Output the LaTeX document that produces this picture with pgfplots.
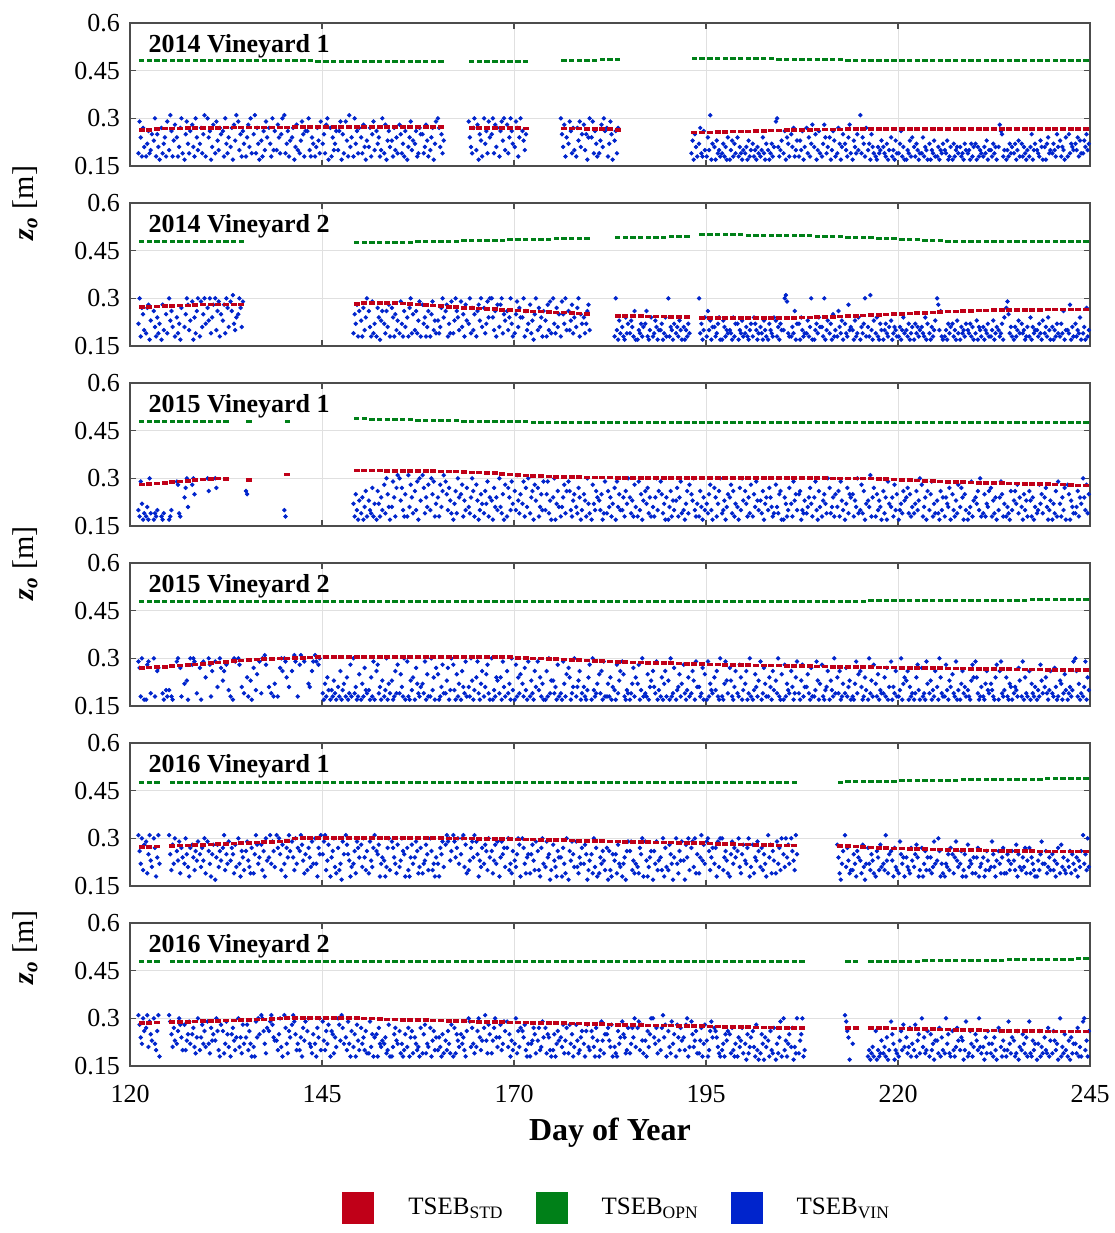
\documentclass[border=0pt]{standalone}
\usepackage{fontspec}
\setmainfont{Liberation Serif}
\usepackage{pgfplots}
\usepackage{pgfplotstable}
\pgfplotsset{compat=1.18}

\definecolor{cstd}{RGB}{192,0,24}
\definecolor{copn}{RGB}{0,128,24}
\definecolor{cvin}{RGB}{0,36,204}

% short horizontal dashes used for the daily TSEB_STD / TSEB_OPN values
\pgfdeclareplotmark{rdash}{\pgfpathrectangle{\pgfpoint{-1.5pt}{-0.9pt}}{\pgfpoint{3pt}{1.8pt}}\pgfusepathqfill}
\pgfdeclareplotmark{gdash}{\pgfpathrectangle{\pgfpoint{-1.35pt}{-0.75pt}}{\pgfpoint{2.7pt}{1.5pt}}\pgfusepathqfill}

% columns: day, TSEB_STD, TSEB_OPN, six TSEB_VIN values of the day
\pgfplotstableread{
d s o b1 b2 b3 b4 b5 b6
121 0.264 0.483 0.19 0.29 0.24 0.18 0.27 0.21
122 0.264 0.483 0.18 0.22 0.26 0.19 0.20 0.25
123 0.266 0.483 0.23 0.30 0.18 0.25 0.21 0.17
124 0.268 0.483 0.27 0.19 0.22 0.24 0.18 0.29
125 0.268 0.482 0.20 0.31 0.26 0.18 0.23 0.28
126 0.268 0.482 0.24 0.18 0.21 0.27 0.30 0.19
127 0.270 0.482 0.17 0.25 0.29 0.22 0.19 0.26
128 0.270 0.482 0.28 0.21 0.18 0.30 0.24 0.20
129 0.270 0.482 0.22 0.27 0.19 0.25 0.31 0.18
130 0.270 0.482 0.30 0.24 0.26 0.17 0.21 0.28
131 0.270 0.482 0.19 0.29 0.23 0.20 0.27 0.25
132 0.271 0.482 0.26 0.18 0.30 0.22 0.19 0.24
133 0.271 0.481 0.21 0.27 0.17 0.28 0.23 0.31
134 0.271 0.481 0.29 0.20 0.25 0.18 0.26 0.22
135 0.271 0.481 0.18 0.24 0.28 0.21 0.30 0.19
136 0.271 0.481 0.25 0.31 0.19 0.27 0.22 0.17
137 0.271 0.481 0.23 0.18 0.26 0.20 0.29 0.24
138 0.271 0.481 0.27 0.22 0.18 0.30 0.20 0.26
139 0.271 0.481 0.20 0.28 0.24 0.19 0.25 0.30
140 0.271 0.481 0.31 0.19 0.22 0.26 0.18 0.23
141 0.272 0.481 0.24 0.27 0.17 0.21 0.28 0.20
142 0.272 0.481 0.19 0.23 0.29 0.25 0.18 0.26
143 0.272 0.481 0.26 0.30 0.20 0.18 0.24 0.22
144 0.272 0.480 0.18 0.21 0.27 0.23 0.19 0.29
145 0.272 0.480 0.22 0.25 0.19 0.28 0.30 0.17
146 0.272 0.480 0.27 0.18 0.24 0.20 0.22 0.26
147 0.272 0.480 0.20 0.26 0.29 0.17 0.25 0.19
148 0.272 0.480 0.29 0.23 0.18 0.31 0.21 0.24
149 0.272 0.480 0.18 0.30 0.22 0.26 0.19 0.27
150 0.272 0.480 0.24 0.19 0.28 0.21 0.17 0.23
151 0.272 0.480 0.21 0.27 0.18 0.25 0.29 0.20
152 0.272 0.480 0.26 0.22 0.24 0.18 0.20 0.30
153 0.272 0.480 0.19 0.28 0.17 0.23 0.26 0.21
154 0.272 0.480 0.23 0.18 0.27 0.20 0.24 0.19
155 0.272 0.480 0.28 0.25 0.19 0.22 0.18 0.26
156 0.272 0.480 0.17 0.21 0.24 0.29 0.20 0.23
157 0.272 0.480 0.22 0.26 0.18 0.19 0.27 0.25
158 0.272 0.480 0.25 0.19 0.21 0.28 0.23 0.18
159 0.272 0.480 0.20 0.24 0.27 0.17 0.22 0.29
160 0.272 0.480 0.30 0.27 0.21 0.25 0.19 0.23
164 0.270 0.480 0.29 0.24 0.21 0.19 0.27 0.30
165 0.270 0.480 0.20 0.28 0.17 0.25 0.23 0.18
166 0.270 0.480 0.30 0.22 0.26 0.19 0.29 0.24
167 0.270 0.480 0.25 0.30 0.19 0.28 0.21 0.27
168 0.270 0.480 0.18 0.26 0.29 0.23 0.30 0.20
169 0.270 0.480 0.28 0.19 0.24 0.30 0.26 0.22
170 0.270 0.480 0.21 0.29 0.27 0.18 0.24 0.30
171 0.268 0.480 0.26 0.23 0.20 0.25 nan nan
176 0.268 0.482 0.30 0.25 0.21 0.28 0.18 0.24
177 0.268 0.482 0.22 0.29 0.26 0.19 0.27 0.20
178 0.268 0.483 0.18 0.27 0.23 0.29 0.21 0.25
179 0.267 0.483 0.28 0.20 0.25 0.17 0.24 0.30
180 0.267 0.483 0.24 0.29 0.19 0.26 0.22 0.18
181 0.266 0.484 0.19 0.23 0.28 0.21 0.30 0.26
182 0.266 0.485 0.27 0.18 0.22 0.29 0.25 0.17
183 0.264 0.485 0.23 0.26 0.19 0.27 nan nan
193 0.255 0.489 0.19 0.23 0.17 0.25 0.21 0.18
194 0.256 0.489 0.22 0.27 0.19 0.18 0.26 0.20
195 0.256 0.489 0.18 0.24 0.20 0.31 0.17 0.22
196 0.257 0.489 0.21 0.17 0.23 0.19 0.20 0.18
197 0.257 0.488 0.19 0.22 0.18 0.21 0.17 0.24
198 0.258 0.488 0.17 0.20 0.23 0.18 0.22 0.19
199 0.258 0.488 0.24 0.18 0.21 0.19 0.17 0.20
200 0.259 0.488 0.19 0.21 0.17 0.23 0.18 0.20
201 0.260 0.487 0.22 0.18 0.20 0.17 0.21 0.19
202 0.261 0.487 0.18 0.20 0.24 0.19 0.17 0.22
203 0.262 0.487 0.20 0.17 0.19 0.22 0.18 0.21
204 0.262 0.486 0.29 0.30 0.21 0.18 0.20 0.23
205 0.263 0.486 0.19 0.26 0.17 0.24 0.22 0.18
206 0.263 0.486 0.25 0.21 0.27 0.18 0.20 0.23
207 0.264 0.485 0.18 0.23 0.20 0.26 0.17 0.21
208 0.264 0.485 0.27 0.19 0.24 0.18 0.22 0.28
209 0.265 0.485 0.21 0.25 0.17 0.20 0.26 0.19
210 0.265 0.484 0.18 0.22 0.28 0.24 0.19 0.21
211 0.265 0.484 0.24 0.17 0.20 0.26 0.23 0.18
212 0.265 0.484 0.19 0.27 0.22 0.17 0.21 0.25
213 0.266 0.483 0.22 0.20 0.18 0.24 0.28 0.19
214 0.266 0.483 0.17 0.23 0.21 0.19 0.25 0.20
215 0.266 0.483 0.31 0.19 0.24 0.22 0.18 0.27
216 0.266 0.482 0.20 0.22 0.17 0.25 0.21 0.19
217 0.266 0.482 0.18 0.17 0.21 0.19 0.20 0.23
218 0.266 0.482 0.21 0.19 0.18 0.22 0.17 0.20
219 0.266 0.482 0.24 0.18 0.20 0.17 0.23 0.19
220 0.266 0.482 0.19 0.22 0.26 0.18 0.21 0.17
221 0.266 0.481 0.17 0.20 0.19 0.23 0.18 0.24
222 0.266 0.481 0.21 0.18 0.22 0.20 0.17 0.19
223 0.266 0.481 0.19 0.24 0.18 0.21 0.20 0.17
224 0.266 0.481 0.22 0.17 0.20 0.19 0.23 0.18
225 0.266 0.481 0.18 0.21 0.17 0.20 0.19 0.22
226 0.266 0.481 0.20 0.19 0.23 0.17 0.18 0.21
227 0.266 0.481 0.17 0.22 0.18 0.20 0.21 0.19
228 0.266 0.481 0.21 0.18 0.19 0.17 0.22 0.20
229 0.266 0.481 0.19 0.20 0.17 0.22 0.18 0.21
230 0.266 0.481 0.22 0.17 0.21 0.18 0.20 0.19
231 0.267 0.481 0.18 0.21 0.19 0.23 0.17 0.20
232 0.267 0.481 0.20 0.18 0.22 0.19 0.21 0.17
233 0.267 0.481 0.21 0.28 0.26 0.25 0.18 0.20
234 0.267 0.481 0.17 0.20 0.18 0.22 0.19 0.21
235 0.267 0.481 0.19 0.22 0.17 0.20 0.23 0.18
236 0.267 0.481 0.22 0.18 0.21 0.19 0.17 0.20
237 0.267 0.481 0.18 0.21 0.25 0.17 0.20 0.22
238 0.267 0.481 0.20 0.19 0.18 0.23 0.21 0.17
239 0.267 0.481 0.21 0.17 0.22 0.24 0.19 0.20
240 0.267 0.481 0.19 0.22 0.20 0.18 0.25 0.21
241 0.267 0.481 0.23 0.18 0.21 0.20 0.17 0.24
242 0.267 0.481 0.18 0.25 0.19 0.22 0.21 0.20
243 0.267 0.481 0.22 0.20 0.24 0.18 0.23 0.19
244 0.267 0.481 0.19 0.23 0.21 0.25 0.20 0.22
}\tA

\pgfplotstableread{
d s o b1 b2 b3 b4 b5 b6
121 0.272 0.478 0.22 0.30 0.18 0.27 0.25 0.20
122 0.273 0.478 0.19 0.27 0.28 0.17 0.23 nan
123 0.274 0.478 0.26 0.21 0.18 0.24 0.19 0.22
124 0.275 0.478 0.17 0.28 0.20 nan 0.25 0.19
125 0.276 0.478 0.30 0.23 0.26 0.21 nan 0.18
126 0.277 0.478 0.24 0.19 0.22 0.17 0.27 nan
127 0.278 0.478 0.21 0.25 0.30 0.28 0.20 0.23
128 0.279 0.478 0.29 0.17 0.24 0.19 0.26 0.30
129 0.280 0.478 0.18 0.29 0.21 0.25 0.30 0.22
130 0.280 0.478 0.27 0.23 0.30 0.19 0.24 0.28
131 0.280 0.478 0.30 0.20 0.26 0.29 0.18 0.25
132 0.280 0.478 0.23 0.28 0.19 0.30 0.27 0.21
133 0.280 0.478 0.29 0.26 0.31 0.22 0.20 0.24
134 0.280 0.478 0.25 0.30 0.27 0.21 0.29 nan
149 0.283 0.475 0.19 0.25 0.22 0.28 0.18 0.26
150 0.285 0.475 0.23 0.18 0.27 0.20 0.24 0.30
151 0.285 0.476 0.26 0.21 0.18 0.29 0.19 0.22
152 0.285 0.476 0.18 0.27 0.24 0.17 0.23 0.26
153 0.285 0.476 0.22 0.19 0.26 0.21 0.28 0.18
154 0.285 0.477 0.27 0.24 0.18 0.25 0.20 0.23
155 0.284 0.477 0.19 0.29 0.22 0.18 0.26 0.21
156 0.283 0.477 0.24 0.18 0.27 0.30 0.19 0.25
157 0.281 0.478 0.20 0.26 0.19 0.23 0.29 0.18
158 0.279 0.478 0.28 0.22 0.24 0.18 0.21 0.26
159 0.277 0.479 0.18 0.25 0.29 0.20 0.23 0.19
160 0.275 0.479 0.23 0.19 0.21 0.27 0.30 0.24
161 0.273 0.480 0.26 0.28 0.18 0.22 0.19 0.29
162 0.272 0.480 0.19 0.23 0.30 0.26 0.24 0.20
163 0.270 0.481 0.29 0.21 0.25 0.18 0.28 0.23
164 0.269 0.481 0.22 0.30 0.19 0.27 0.20 0.25
165 0.268 0.482 0.18 0.26 0.28 0.23 0.30 0.21
166 0.267 0.482 0.27 0.19 0.22 0.29 0.24 0.30
167 0.266 0.483 0.30 0.24 0.20 0.26 0.18 0.28
168 0.264 0.483 0.21 0.28 0.30 0.19 0.25 0.23
169 0.263 0.484 0.26 0.20 0.24 0.30 0.22 0.18
170 0.262 0.484 0.19 0.25 0.29 0.21 0.27 0.24
171 0.260 0.485 0.24 0.30 0.18 0.26 0.20 0.22
172 0.259 0.485 0.28 0.19 0.23 0.17 0.25 0.30
173 0.258 0.486 0.20 0.27 0.21 0.24 0.18 0.26
174 0.257 0.486 0.23 0.18 0.28 0.20 0.29 0.19
175 0.256 0.487 0.30 0.22 0.19 0.27 0.21 0.25
176 0.255 0.487 0.18 0.29 0.25 0.22 0.30 0.20
177 0.254 0.488 0.26 0.20 0.23 0.28 0.19 0.24
178 0.252 0.488 0.21 0.27 0.30 0.18 0.25 0.22
179 0.250 0.489 0.24 0.19 0.22 0.26 0.28 0.20
183 0.245 0.490 0.18 0.30 0.20 0.17 0.23 0.19
184 0.245 0.491 0.21 0.18 0.17 0.24 0.19 0.22
185 0.244 0.491 0.19 0.23 0.21 0.18 0.26 0.17
186 0.244 0.492 0.17 0.20 0.19 0.22 0.18 0.21
187 0.243 0.492 0.22 0.26 0.18 0.17 0.20 0.24
188 0.243 0.493 0.18 0.19 0.23 0.21 0.17 0.20
189 0.243 0.493 0.20 0.22 0.17 0.19 0.24 0.18
190 0.242 0.494 0.30 0.18 0.21 0.20 0.17 0.22
191 0.242 0.494 0.19 0.21 0.18 0.23 0.20 0.17
192 0.242 0.495 0.21 0.17 0.20 0.18 0.22 0.19
194 0.238 0.500 0.30 0.19 0.22 0.17 0.20 0.24
195 0.238 0.500 0.18 0.26 0.20 0.23 0.17 0.21
196 0.238 0.500 0.21 0.18 0.19 0.22 0.24 0.17
197 0.238 0.500 0.17 0.23 0.21 0.18 0.20 0.19
198 0.238 0.500 0.20 0.19 0.17 0.24 0.18 0.22
199 0.238 0.500 0.22 0.17 0.20 0.19 0.23 0.18
200 0.238 0.499 0.19 0.21 0.18 0.17 0.20 0.22
201 0.238 0.499 0.18 0.24 0.22 0.20 0.17 0.19
202 0.238 0.499 0.21 0.19 0.17 0.23 0.20 0.18
203 0.238 0.499 0.17 0.22 0.20 0.19 0.18 0.24
204 0.238 0.498 0.23 0.18 0.21 0.17 0.22 0.20
205 0.239 0.498 0.20 0.30 0.31 0.29 0.19 0.18
206 0.239 0.498 0.18 0.21 0.19 0.26 0.17 0.22
207 0.240 0.497 0.22 0.17 0.24 0.20 0.18 0.19
208 0.240 0.497 0.19 0.23 0.18 0.21 0.30 0.17
209 0.241 0.496 0.17 0.20 0.22 0.19 0.24 0.21
210 0.242 0.496 0.21 0.18 0.30 0.17 0.20 0.23
211 0.242 0.495 0.19 0.22 0.17 0.25 0.18 0.20
212 0.243 0.494 0.18 0.26 0.21 0.19 0.23 0.17
213 0.244 0.493 0.22 0.19 0.18 0.28 0.20 0.21
214 0.245 0.492 0.20 0.17 0.23 0.18 0.19 0.24
215 0.246 0.491 0.17 0.21 0.19 0.22 0.30 0.18
216 0.247 0.490 0.21 0.18 0.31 0.20 0.17 0.23
217 0.248 0.489 0.19 0.24 0.18 0.17 0.22 0.20
218 0.249 0.488 0.17 0.20 0.22 0.19 0.18 0.21
219 0.250 0.487 0.23 0.17 0.19 0.21 0.20 0.18
220 0.251 0.486 0.18 0.21 0.17 0.20 0.24 0.19
221 0.252 0.485 0.20 0.18 0.22 0.17 0.19 0.21
222 0.253 0.484 0.17 0.22 0.19 0.21 0.18 0.20
223 0.254 0.483 0.21 0.19 0.18 0.24 0.17 0.22
224 0.256 0.482 0.19 0.17 0.21 0.18 0.20 0.23
225 0.257 0.481 0.30 0.28 0.20 0.26 0.18 0.17
226 0.258 0.480 0.18 0.20 0.17 0.22 0.19 0.21
227 0.259 0.480 0.22 0.18 0.20 0.17 0.23 0.19
228 0.260 0.479 0.17 0.21 0.19 0.20 0.18 0.22
229 0.261 0.479 0.20 0.19 0.22 0.18 0.21 0.17
230 0.262 0.479 0.19 0.23 0.17 0.21 0.20 0.18
231 0.262 0.478 0.21 0.17 0.20 0.19 0.22 0.18
232 0.263 0.478 0.18 0.20 0.23 0.17 0.19 0.21
233 0.263 0.478 0.20 0.18 0.19 0.22 0.17 0.24
234 0.263 0.478 0.27 0.29 0.25 0.19 0.21 0.18
235 0.264 0.478 0.17 0.21 0.18 0.20 0.23 0.19
236 0.264 0.478 0.22 0.19 0.20 0.17 0.18 0.21
237 0.264 0.478 0.18 0.24 0.17 0.21 0.19 0.20
238 0.264 0.478 0.20 0.18 0.22 0.19 0.17 0.23
239 0.265 0.478 0.19 0.21 0.18 0.24 0.20 0.17
240 0.265 0.478 0.21 0.17 0.20 0.18 0.22 0.19
241 0.265 0.478 0.18 0.22 0.19 0.26 0.17 0.20
242 0.265 0.478 0.20 0.19 0.28 0.17 0.21 0.18
243 0.265 0.478 0.22 0.18 0.20 0.19 0.24 0.17
244 0.265 0.478 0.19 0.21 0.17 0.27 0.18 0.20
}\tB

\pgfplotstableread{
d s o b1 b2 b3 b4 b5 b6
121 0.280 0.478 0.20 0.18 0.29 0.22 0.17 0.19
122 0.282 0.478 0.18 0.21 0.17 0.30 0.19 nan
123 0.284 0.478 0.17 0.19 0.18 0.20 nan nan
124 0.286 0.478 0.18 0.17 0.19 nan nan nan
125 0.288 0.478 0.17 0.18 0.20 nan nan nan
126 0.290 0.478 0.29 0.28 0.19 0.18 nan nan
127 0.292 0.478 0.24 0.27 0.30 0.21 nan nan
128 0.294 0.478 0.28 0.30 0.25 nan nan nan
129 0.296 0.478 nan nan nan nan nan nan
130 0.298 0.478 0.30 0.26 nan nan nan nan
131 0.300 0.478 0.30 0.27 nan nan nan nan
132 0.298 0.478 nan nan nan nan nan nan
135 0.295 0.478 0.26 0.25 nan nan nan nan
140 0.312 0.478 0.20 0.18 nan nan nan nan
149 0.325 0.487 0.22 0.18 0.25 0.20 0.17 0.23
150 0.325 0.487 0.19 0.24 0.17 0.21 0.26 0.18
151 0.325 0.486 0.23 0.20 0.19 0.27 0.18 0.22
152 0.325 0.486 0.17 0.26 0.22 0.18 0.24 0.20
153 0.324 0.485 0.28 0.19 0.30 0.25 0.21 0.17
154 0.324 0.485 0.21 0.29 0.24 0.18 0.27 0.31
155 0.324 0.484 0.30 0.23 0.27 0.20 0.18 0.25
156 0.324 0.484 0.18 0.31 0.21 0.28 0.24 0.19
157 0.323 0.483 0.26 0.20 0.29 0.17 0.30 0.23
158 0.323 0.483 0.31 0.27 0.19 0.24 0.21 0.28
159 0.323 0.482 0.20 0.30 0.25 0.29 0.18 0.22
160 0.322 0.482 0.24 0.18 0.28 0.21 0.26 0.31
161 0.322 0.481 0.29 0.25 0.20 0.27 0.23 0.19
162 0.321 0.481 0.17 0.22 0.26 0.19 0.30 0.24
163 0.320 0.480 0.25 0.28 0.18 0.23 0.20 0.27
164 0.319 0.480 0.21 0.19 0.24 0.30 0.26 0.18
165 0.318 0.480 0.28 0.23 0.17 0.20 0.25 0.22
166 0.317 0.479 0.19 0.26 0.22 0.29 0.18 0.24
167 0.316 0.479 0.23 0.17 0.27 0.21 0.24 0.20
168 0.314 0.479 0.30 0.21 0.19 0.25 0.17 0.28
169 0.312 0.478 0.18 0.27 0.24 0.20 0.29 0.22
170 0.310 0.478 0.26 0.20 0.31 0.23 0.19 0.25
171 0.309 0.478 0.22 0.29 0.18 0.27 0.21 0.30
172 0.308 0.477 0.19 0.24 0.26 0.17 0.28 0.23
173 0.307 0.477 0.27 0.18 0.21 0.25 0.20 0.29
174 0.306 0.477 0.20 0.25 0.29 0.19 0.23 0.17
175 0.305 0.477 0.24 0.30 0.17 0.22 0.26 0.21
176 0.305 0.477 0.18 0.21 0.24 0.28 0.19 0.26
177 0.304 0.476 0.29 0.26 0.20 0.18 0.23 0.25
178 0.304 0.476 0.21 0.19 0.27 0.24 0.17 0.20
179 0.303 0.476 0.25 0.23 0.18 0.30 0.22 0.19
180 0.303 0.476 0.17 0.28 0.22 0.20 0.26 0.24
181 0.303 0.476 0.23 0.20 0.25 0.17 0.19 0.29
182 0.303 0.476 0.19 0.26 0.21 0.24 0.18 0.22
183 0.302 0.476 0.27 0.17 0.29 0.21 0.25 0.20
184 0.302 0.476 0.20 0.24 0.18 0.26 0.22 0.30
185 0.302 0.476 0.24 0.19 0.23 0.18 0.28 0.21
186 0.302 0.476 0.18 0.29 0.20 0.25 0.17 0.23
187 0.302 0.476 0.26 0.22 0.27 0.19 0.24 0.18
188 0.302 0.476 0.21 0.18 0.24 0.30 0.20 0.26
189 0.302 0.476 0.29 0.25 0.19 0.22 0.17 0.24
190 0.302 0.476 0.17 0.21 0.26 0.18 0.23 0.20
191 0.302 0.476 0.23 0.27 0.18 0.24 0.29 0.19
192 0.302 0.476 0.20 0.17 0.22 0.26 0.19 0.28
193 0.302 0.476 0.25 0.23 0.30 0.20 0.18 0.22
194 0.302 0.476 0.18 0.26 0.21 0.17 0.24 0.20
195 0.302 0.476 0.22 0.19 0.25 0.28 0.20 0.17
196 0.302 0.476 0.27 0.24 0.18 0.22 0.26 0.30
197 0.302 0.476 0.19 0.20 0.23 0.17 0.21 0.25
198 0.302 0.476 0.24 0.28 0.19 0.26 0.18 0.22
199 0.302 0.476 0.21 0.17 0.27 0.20 0.30 0.23
200 0.302 0.476 0.26 0.22 0.18 0.24 0.19 0.28
201 0.302 0.476 0.18 0.25 0.21 0.29 0.23 0.20
202 0.302 0.476 0.23 0.19 0.26 0.17 0.22 0.24
203 0.302 0.476 0.20 0.27 0.24 0.21 0.18 0.19
204 0.302 0.476 0.28 0.21 0.19 0.25 0.26 0.17
205 0.302 0.476 0.17 0.24 0.22 0.18 0.20 0.27
206 0.302 0.476 0.22 0.18 0.29 0.23 0.25 0.20
207 0.301 0.476 0.25 0.26 0.17 0.20 0.19 0.23
208 0.301 0.476 0.19 0.21 0.24 0.27 0.22 0.18
209 0.301 0.476 0.24 0.29 0.20 0.17 0.26 0.21
210 0.301 0.476 0.18 0.23 0.25 0.22 0.19 0.30
211 0.300 0.476 0.27 0.19 0.21 0.24 0.18 0.25
212 0.300 0.476 0.21 0.26 0.18 0.29 0.23 0.20
213 0.300 0.476 0.17 0.22 0.27 0.19 0.25 0.24
214 0.300 0.476 0.25 0.18 0.23 0.21 0.30 0.19
215 0.300 0.476 0.20 0.28 0.19 0.26 0.17 0.22
216 0.299 0.476 0.23 0.21 0.31 0.18 0.24 0.27
217 0.298 0.476 0.18 0.25 0.20 0.23 0.21 0.17
218 0.297 0.476 0.26 0.19 0.24 0.17 0.29 0.22
219 0.296 0.476 0.21 0.24 0.18 0.28 0.20 0.25
220 0.295 0.476 0.17 0.20 0.22 0.19 0.26 0.23
221 0.294 0.476 0.24 0.27 0.19 0.25 0.18 0.21
222 0.293 0.476 0.19 0.22 0.26 0.20 0.23 0.30
223 0.292 0.476 0.28 0.18 0.21 0.24 0.17 0.26
224 0.291 0.476 0.20 0.25 0.29 0.18 0.22 0.19
225 0.290 0.476 0.23 0.19 0.17 0.26 0.20 0.24
226 0.289 0.476 0.18 0.24 0.22 0.21 0.27 0.17
227 0.288 0.476 0.25 0.20 0.18 0.23 0.19 0.28
228 0.288 0.476 0.21 0.27 0.24 0.17 0.25 0.20
229 0.287 0.476 0.17 0.19 0.21 0.29 0.18 0.23
230 0.286 0.476 0.24 0.22 0.26 0.20 0.30 0.18
231 0.286 0.476 0.19 0.25 0.18 0.22 0.21 0.26
232 0.285 0.476 0.27 0.18 0.23 0.19 0.24 0.17
233 0.285 0.476 0.20 0.24 0.29 0.25 0.18 0.22
234 0.284 0.476 0.18 0.21 0.19 0.17 0.26 0.20
235 0.284 0.476 0.23 0.26 0.22 0.28 0.19 0.24
236 0.283 0.476 0.21 0.17 0.25 0.20 0.23 0.18
237 0.283 0.476 0.26 0.23 0.18 0.24 0.17 0.21
238 0.282 0.476 0.19 0.20 0.28 0.22 0.25 0.19
239 0.282 0.476 0.24 0.27 0.21 0.17 0.20 0.23
240 0.281 0.476 0.17 0.22 0.19 0.26 0.18 0.29
241 0.280 0.476 0.22 0.18 0.24 0.20 0.27 0.17
242 0.279 0.476 0.28 0.25 0.17 0.23 0.21 0.19
243 0.278 0.476 0.19 0.21 0.26 0.18 0.24 0.22
244 0.277 0.476 0.30 0.24 0.20 0.28 0.19 0.25
}\tC

\pgfplotstableread{
d s o b1 b2 b3 b4 b5 b6
121 0.270 0.478 0.29 0.27 0.18 0.30 nan 0.17
122 0.271 0.478 0.17 0.28 0.29 nan 0.19 nan
123 0.272 0.478 0.30 0.18 nan 0.26 0.27 nan
124 0.273 0.478 nan 0.19 0.17 nan 0.20 0.18
125 0.275 0.478 0.20 nan 0.18 0.17 nan nan
126 0.277 0.478 0.29 0.30 nan 0.27 0.18 nan
127 0.279 0.478 0.22 nan 0.23 0.17 nan 0.30
128 0.281 0.478 0.28 0.30 0.29 nan 0.19 nan
129 0.283 0.478 0.27 0.17 nan 0.29 nan 0.24
130 0.285 0.478 nan 0.30 0.28 0.18 0.26 nan
131 0.287 0.478 0.29 nan 0.21 nan 0.30 0.27
132 0.289 0.478 0.23 0.26 nan 0.28 nan 0.20
133 0.291 0.478 0.18 nan 0.17 0.30 0.29 nan
134 0.293 0.478 0.30 0.28 nan 0.21 nan 0.19
135 0.295 0.478 nan 0.24 0.18 nan 0.23 0.17
136 0.296 0.478 0.27 nan 0.20 0.25 nan 0.29
137 0.297 0.478 0.19 0.30 nan 0.31 0.28 nan
138 0.298 0.478 0.21 nan 0.19 nan 0.18 0.22
139 0.299 0.478 nan 0.18 nan 0.27 0.30 0.26
140 0.300 0.478 0.30 0.29 0.24 nan 0.21 nan
141 0.301 0.478 0.26 nan 0.31 0.29 nan 0.18
142 0.302 0.478 0.28 0.31 nan 0.30 0.29 nan
143 0.303 0.478 nan 0.22 0.21 nan 0.26 0.29
144 0.304 0.478 0.31 0.29 nan 0.28 0.30 nan
145 0.305 0.478 0.19 0.17 0.22 0.18 0.24 0.20
146 0.305 0.478 0.17 0.20 0.18 0.23 0.19 0.17
147 0.305 0.478 0.21 0.18 0.26 0.17 0.20 0.22
148 0.305 0.478 0.18 0.24 0.17 0.19 0.28 0.18
149 0.305 0.478 0.30 0.19 0.21 0.17 0.18 0.25
150 0.305 0.478 0.17 0.22 0.18 0.27 0.20 0.19
151 0.305 0.478 0.20 0.17 0.24 0.18 0.29 0.17
152 0.305 0.478 0.26 0.28 0.19 0.21 0.17 0.23
153 0.305 0.478 0.18 0.20 0.30 0.17 0.22 0.19
154 0.305 0.478 0.23 0.17 0.18 0.26 0.19 0.28
155 0.305 0.478 0.19 0.25 0.21 0.18 0.30 0.17
156 0.305 0.478 0.29 0.18 0.17 0.23 0.20 0.24
157 0.305 0.478 0.17 0.27 0.22 0.19 0.18 0.21
158 0.305 0.478 0.22 0.19 0.29 0.17 0.25 0.18
159 0.305 0.478 0.18 0.30 0.20 0.24 0.17 0.27
160 0.305 0.478 0.25 0.17 0.18 0.21 0.28 0.19
161 0.305 0.478 0.19 0.23 0.27 0.17 0.20 0.30
162 0.305 0.478 0.28 0.20 0.17 0.25 0.18 0.22
163 0.305 0.478 0.17 0.26 0.21 0.19 0.29 0.18
164 0.305 0.478 0.21 0.18 0.30 0.23 0.17 0.20
165 0.305 0.478 0.24 0.29 0.19 0.17 0.22 0.26
166 0.305 0.478 0.18 0.21 0.25 0.28 0.19 0.17
167 0.305 0.478 0.30 0.17 0.20 0.18 0.24 0.23
168 0.305 0.478 0.19 0.24 0.17 0.29 0.21 0.18
169 0.304 0.478 0.26 0.19 0.22 0.17 0.30 0.20
170 0.302 0.478 0.17 0.28 0.18 0.24 0.19 0.25
171 0.301 0.478 0.22 0.18 0.27 0.20 0.17 0.29
172 0.300 0.478 0.18 0.23 0.19 0.17 0.26 0.21
173 0.299 0.478 0.29 0.20 0.24 0.18 0.22 0.17
174 0.298 0.478 0.17 0.26 0.18 0.30 0.19 0.23
175 0.297 0.478 0.23 0.19 0.21 0.17 0.28 0.18
176 0.296 0.478 0.19 0.17 0.29 0.22 0.18 0.25
177 0.295 0.478 0.27 0.24 0.17 0.19 0.21 0.30
178 0.294 0.478 0.18 0.21 0.23 0.26 0.17 0.19
179 0.293 0.478 0.21 0.18 0.17 0.20 0.24 0.28
180 0.292 0.478 0.17 0.30 0.20 0.18 0.19 0.22
181 0.291 0.478 0.25 0.19 0.26 0.17 0.29 0.18
182 0.290 0.478 0.18 0.22 0.18 0.24 0.17 0.21
183 0.289 0.478 0.20 0.17 0.28 0.19 0.23 0.26
184 0.288 0.478 0.29 0.25 0.18 0.17 0.20 0.19
185 0.287 0.478 0.17 0.19 0.22 0.27 0.18 0.24
186 0.287 0.478 0.22 0.28 0.17 0.20 0.30 0.18
187 0.286 0.478 0.19 0.18 0.25 0.17 0.21 0.23
188 0.286 0.478 0.26 0.21 0.19 0.29 0.17 0.20
189 0.285 0.478 0.18 0.24 0.17 0.22 0.26 0.18
190 0.285 0.478 0.23 0.17 0.30 0.18 0.19 0.27
191 0.284 0.478 0.17 0.20 0.21 0.25 0.18 0.22
192 0.283 0.478 0.28 0.19 0.17 0.20 0.24 0.18
193 0.282 0.478 0.19 0.26 0.23 0.17 0.29 0.21
194 0.282 0.478 0.21 0.18 0.19 0.27 0.17 0.25
195 0.281 0.478 0.17 0.29 0.18 0.22 0.20 0.19
196 0.281 0.478 0.24 0.20 0.26 0.18 0.17 0.30
197 0.280 0.478 0.18 0.17 0.22 0.29 0.23 0.19
198 0.280 0.478 0.27 0.23 0.18 0.17 0.21 0.26
199 0.279 0.479 0.19 0.18 0.28 0.24 0.17 0.20
200 0.279 0.479 0.22 0.26 0.17 0.19 0.30 0.18
201 0.278 0.479 0.17 0.20 0.25 0.21 0.18 0.23
202 0.278 0.479 0.29 0.17 0.19 0.27 0.22 0.18
203 0.277 0.479 0.18 0.24 0.21 0.17 0.26 0.20
204 0.277 0.479 0.23 0.19 0.30 0.18 0.17 0.25
205 0.276 0.479 0.17 0.28 0.18 0.22 0.20 0.19
206 0.276 0.479 0.26 0.21 0.17 0.19 0.24 0.29
207 0.275 0.479 0.19 0.17 0.23 0.28 0.18 0.21
208 0.275 0.480 0.21 0.25 0.19 0.17 0.27 0.18
209 0.274 0.480 0.18 0.20 0.29 0.23 0.17 0.22
210 0.274 0.480 0.28 0.18 0.17 0.20 0.21 0.26
211 0.273 0.480 0.17 0.23 0.20 0.18 0.30 0.19
212 0.273 0.480 0.24 0.19 0.26 0.17 0.18 0.22
213 0.273 0.480 0.19 0.27 0.18 0.21 0.23 0.17
214 0.272 0.480 0.18 0.17 0.22 0.29 0.19 0.25
215 0.272 0.480 0.26 0.21 0.17 0.18 0.24 0.20
216 0.272 0.481 0.17 0.30 0.19 0.23 0.18 0.28
217 0.271 0.481 0.22 0.18 0.25 0.17 0.20 0.19
218 0.271 0.481 0.19 0.24 0.18 0.27 0.17 0.21
219 0.271 0.481 0.29 0.17 0.21 0.19 0.26 0.18
220 0.270 0.481 0.18 0.20 0.30 0.17 0.22 0.24
221 0.270 0.481 0.23 0.26 0.17 0.21 0.18 0.19
222 0.270 0.481 0.17 0.19 0.24 0.28 0.20 0.17
223 0.269 0.482 0.27 0.18 0.19 0.17 0.29 0.22
224 0.269 0.482 0.19 0.23 0.17 0.20 0.18 0.26
225 0.269 0.482 0.21 0.17 0.30 0.24 0.19 0.18
226 0.268 0.482 0.18 0.28 0.20 0.17 0.23 0.21
227 0.268 0.482 0.25 0.19 0.18 0.29 0.17 0.20
228 0.268 0.482 0.17 0.22 0.26 0.19 0.21 0.18
229 0.267 0.482 0.20 0.18 0.17 0.23 0.28 0.24
230 0.267 0.483 0.29 0.24 0.19 0.17 0.18 0.21
231 0.267 0.483 0.18 0.17 0.22 0.26 0.20 0.19
232 0.266 0.483 0.22 0.20 0.18 0.17 0.24 0.28
233 0.266 0.483 0.17 0.26 0.29 0.19 0.18 0.20
234 0.266 0.483 0.24 0.18 0.17 0.22 0.21 0.17
235 0.265 0.483 0.19 0.21 0.20 0.18 0.27 0.23
236 0.265 0.483 0.18 0.29 0.17 0.24 0.19 0.18
237 0.265 0.484 0.26 0.17 0.22 0.19 0.18 0.21
238 0.265 0.484 0.17 0.20 0.18 0.28 0.23 0.19
239 0.264 0.484 0.21 0.24 0.19 0.17 0.20 0.26
240 0.264 0.484 0.19 0.18 0.27 0.21 0.17 0.18
241 0.264 0.484 0.23 0.22 0.17 0.19 0.25 0.20
242 0.264 0.484 0.17 0.19 0.21 0.18 0.20 0.29
243 0.263 0.484 0.30 0.26 0.18 0.22 0.17 0.19
244 0.263 0.484 0.18 0.21 0.29 0.17 0.24 0.20
}\tD

\pgfplotstableread{
d s o b1 b2 b3 b4 b5 b6
121 0.272 0.477 0.31 0.26 0.22 0.30 0.20 0.28
122 0.273 0.477 0.29 0.19 0.25 0.31 0.23 0.21
123 0.274 0.477 0.30 0.27 0.18 0.24 0.31 0.22
125 0.276 0.477 0.31 0.25 0.20 0.28 0.22 0.30
126 0.277 0.477 0.26 0.23 0.29 0.19 0.27 0.24
127 0.278 0.477 0.22 0.30 0.25 0.21 0.18 0.27
128 0.279 0.477 0.28 0.24 0.20 0.26 0.23 0.29
129 0.280 0.477 0.25 0.21 0.27 0.23 0.30 0.19
130 0.281 0.477 0.29 0.26 0.22 0.18 0.25 0.28
131 0.282 0.477 0.17 0.24 0.28 0.21 0.26 0.23
132 0.283 0.477 0.27 0.31 0.20 0.25 0.22 0.29
133 0.284 0.477 0.23 0.27 0.25 0.19 0.28 0.21
134 0.285 0.477 0.30 0.22 0.18 0.26 0.24 0.20
135 0.286 0.477 0.26 0.29 0.23 0.21 0.19 0.27
136 0.287 0.477 0.19 0.25 0.31 0.28 0.22 0.24
137 0.288 0.477 0.28 0.20 0.26 0.18 0.30 0.23
138 0.289 0.477 0.24 0.31 0.22 0.29 0.26 0.21
139 0.290 0.477 0.31 0.27 0.30 0.25 0.20 0.28
140 0.292 0.477 0.22 0.18 0.27 0.24 0.31 0.26
141 0.300 0.477 0.29 0.24 0.20 0.30 0.22 0.27
142 0.301 0.477 0.26 0.31 0.28 0.23 0.19 0.25
143 0.301 0.477 0.20 0.27 0.24 0.21 0.29 0.22
144 0.301 0.477 0.30 0.22 0.18 0.27 0.25 0.31
145 0.301 0.477 0.25 0.29 0.31 0.20 0.23 0.28
146 0.301 0.477 0.18 0.24 0.26 0.30 0.21 0.19
147 0.301 0.477 0.27 0.20 0.22 0.17 0.29 0.25
148 0.301 0.477 0.31 0.28 0.25 0.23 0.18 0.21
149 0.301 0.477 0.22 0.26 0.19 0.29 0.27 0.24
150 0.301 0.477 0.28 0.21 0.30 0.24 0.20 0.26
151 0.301 0.477 0.19 0.29 0.23 0.21 0.27 0.31
152 0.301 0.477 0.26 0.25 0.28 0.18 0.22 0.24
153 0.301 0.477 0.23 0.18 0.21 0.27 0.30 0.20
154 0.301 0.477 0.29 0.27 0.24 0.22 0.19 0.28
155 0.301 0.477 0.21 0.23 0.30 0.26 0.25 0.18
156 0.301 0.477 0.27 0.20 0.18 0.24 0.28 0.22
157 0.301 0.477 0.24 0.29 0.26 0.19 0.21 0.27
158 0.301 0.477 0.19 0.22 0.23 0.28 0.25 0.20
159 0.301 0.477 0.30 0.26 0.20 0.22 0.18 0.24
160 0.301 0.477 0.22 0.18 0.27 0.25 0.29 0.21
161 0.300 0.477 0.28 0.31 0.29 0.30 0.23 0.26
162 0.300 0.477 0.31 0.29 0.24 0.27 0.30 0.22
163 0.299 0.477 0.25 0.30 0.31 0.21 0.28 0.19
164 0.299 0.477 0.20 0.23 0.27 0.29 0.24 0.31
165 0.298 0.477 0.29 0.25 0.18 0.23 0.21 0.27
166 0.298 0.477 0.22 0.28 0.26 0.20 0.30 0.24
167 0.297 0.477 0.26 0.19 0.23 0.28 0.22 0.29
168 0.297 0.477 0.18 0.24 0.29 0.25 0.27 0.21
169 0.297 0.477 0.27 0.30 0.20 0.22 0.19 0.26
170 0.296 0.477 0.23 0.21 0.25 0.30 0.28 0.18
171 0.296 0.477 0.30 0.27 0.22 0.19 0.24 0.25
172 0.296 0.477 0.19 0.25 0.28 0.23 0.20 0.29
173 0.295 0.477 0.26 0.20 0.18 0.27 0.30 0.22
174 0.295 0.477 0.21 0.29 0.24 0.25 0.17 0.20
175 0.294 0.477 0.28 0.23 0.21 0.18 0.26 0.24
176 0.294 0.477 0.24 0.18 0.27 0.22 0.19 0.30
177 0.293 0.477 0.17 0.26 0.23 0.29 0.25 0.21
178 0.292 0.477 0.29 0.21 0.19 0.24 0.22 0.27
179 0.292 0.477 0.22 0.28 0.25 0.17 0.20 0.23
180 0.291 0.477 0.25 0.19 0.30 0.21 0.27 0.18
181 0.291 0.477 0.19 0.24 0.22 0.26 0.23 0.20
182 0.290 0.477 0.27 0.17 0.26 0.20 0.18 0.25
183 0.290 0.477 0.23 0.25 0.19 0.28 0.22 0.21
184 0.289 0.477 0.18 0.22 0.24 0.17 0.26 0.29
185 0.289 0.477 0.26 0.29 0.20 0.23 0.19 0.22
186 0.288 0.477 0.21 0.19 0.27 0.25 0.30 0.18
187 0.288 0.477 0.29 0.23 0.18 0.21 0.24 0.26
188 0.287 0.477 0.17 0.26 0.22 0.29 0.20 0.23
189 0.287 0.477 0.24 0.20 0.30 0.18 0.27 0.21
190 0.287 0.477 0.20 0.28 0.25 0.22 0.17 0.24
191 0.286 0.477 0.30 0.22 0.19 0.26 0.23 0.29
192 0.286 0.477 0.23 0.17 0.28 0.24 0.30 0.20
193 0.285 0.477 0.27 0.29 0.21 0.30 0.19 0.25
194 0.285 0.477 0.19 0.24 0.31 0.23 0.28 0.22
195 0.284 0.477 0.29 0.30 0.26 0.20 0.24 0.27
196 0.283 0.477 0.22 0.27 0.18 0.29 0.21 0.30
197 0.283 0.477 0.30 0.20 0.24 0.26 0.23 0.19
198 0.282 0.477 0.18 0.25 0.29 0.22 0.27 0.24
199 0.281 0.477 0.26 0.30 0.21 0.19 0.25 0.28
200 0.281 0.477 0.23 0.22 0.27 0.30 0.18 0.21
201 0.280 0.477 0.28 0.19 0.24 0.23 0.29 0.26
202 0.280 0.477 0.21 0.27 0.20 0.25 0.22 0.18
203 0.279 0.477 0.31 0.24 0.28 0.19 0.26 0.23
204 0.278 0.477 0.19 0.29 0.22 0.27 0.20 0.30
205 0.278 0.477 0.25 0.21 0.30 0.24 0.28 0.22
206 0.277 0.477 0.30 0.26 0.23 0.20 0.31 0.25
212 0.275 0.477 0.28 0.24 0.19 0.17 0.22 0.26
213 0.275 0.478 0.31 0.21 0.27 0.23 0.19 0.20
214 0.274 0.478 0.20 0.25 0.22 0.18 0.26 0.24
215 0.272 0.478 0.23 0.19 0.28 0.21 0.17 0.22
216 0.271 0.479 0.27 0.22 0.20 0.25 0.23 0.19
217 0.270 0.479 0.18 0.26 0.24 0.20 0.28 0.21
218 0.269 0.480 0.22 0.20 0.31 0.23 0.19 0.25
219 0.268 0.480 0.26 0.23 0.18 0.27 0.21 0.20
220 0.268 0.481 0.19 0.29 0.25 0.22 0.24 0.18
221 0.267 0.481 0.24 0.21 0.20 0.19 0.27 0.23
222 0.266 0.482 0.21 0.25 0.28 0.24 0.18 0.20
223 0.266 0.482 0.27 0.18 0.22 0.26 0.20 0.24
224 0.265 0.482 0.20 0.24 0.19 0.21 0.29 0.22
225 0.265 0.483 0.23 0.30 0.26 0.18 0.22 0.19
226 0.264 0.483 0.18 0.22 0.21 0.25 0.20 0.27
227 0.264 0.483 0.25 0.19 0.24 0.29 0.23 0.21
228 0.263 0.484 0.22 0.26 0.18 0.20 0.25 0.18
229 0.263 0.484 0.28 0.21 0.23 0.22 0.19 0.24
230 0.263 0.484 0.19 0.24 0.27 0.18 0.21 0.22
231 0.262 0.485 0.24 0.18 0.20 0.26 0.23 0.20
232 0.262 0.485 0.21 0.29 0.25 0.21 0.18 0.23
233 0.261 0.485 0.26 0.22 0.19 0.24 0.27 0.19
234 0.261 0.485 0.19 0.25 0.23 0.20 0.22 0.26
235 0.261 0.486 0.23 0.20 0.28 0.18 0.25 0.21
236 0.260 0.486 0.20 0.24 0.21 0.27 0.19 0.23
237 0.260 0.486 0.27 0.19 0.24 0.22 0.20 0.18
238 0.259 0.486 0.18 0.23 0.20 0.25 0.29 0.22
239 0.259 0.487 0.22 0.26 0.19 0.21 0.24 0.20
240 0.259 0.487 0.25 0.20 0.23 0.18 0.22 0.27
241 0.258 0.487 0.19 0.28 0.21 0.24 0.20 0.19
242 0.258 0.487 0.23 0.21 0.26 0.19 0.25 0.22
243 0.258 0.487 0.20 0.24 0.18 0.23 0.21 0.26
244 0.258 0.488 0.31 0.22 0.25 0.20 0.30 0.21
}\tE

\pgfplotstableread{
d s o b1 b2 b3 b4 b5 b6
121 0.286 0.478 0.31 0.28 0.24 0.22 0.30 0.26
122 0.286 0.478 0.27 0.31 0.21 0.29 0.25 0.23
123 0.287 0.478 0.30 0.22 0.20 0.26 0.31 0.18
125 0.288 0.478 0.31 0.29 0.25 0.21 0.27 0.23
126 0.289 0.478 0.22 0.26 0.30 0.28 0.24 0.20
127 0.289 0.478 0.28 0.20 0.23 0.25 0.29 0.22
128 0.290 0.478 0.25 0.27 0.21 0.19 0.24 0.30
129 0.291 0.478 0.20 0.24 0.28 0.22 0.26 0.21
130 0.292 0.478 0.29 0.22 0.19 0.27 0.23 0.25
131 0.292 0.478 0.23 0.30 0.26 0.20 0.18 0.28
132 0.293 0.478 0.26 0.19 0.22 0.29 0.25 0.21
133 0.293 0.478 0.18 0.25 0.27 0.23 0.20 0.24
134 0.294 0.478 0.30 0.21 0.24 0.19 0.28 0.22
135 0.295 0.478 0.24 0.28 0.20 0.26 0.22 0.18
136 0.296 0.478 0.21 0.18 0.29 0.24 0.30 0.25
137 0.297 0.478 0.31 0.30 0.26 0.22 0.19 0.27
138 0.298 0.478 0.26 0.29 0.31 0.28 0.24 0.23
139 0.299 0.478 0.23 0.20 0.25 0.30 0.21 0.18
140 0.301 0.478 0.31 0.27 0.22 0.19 0.26 0.24
141 0.302 0.478 0.28 0.31 0.29 0.25 0.20 0.22
142 0.302 0.478 0.20 0.24 0.18 0.27 0.23 0.29
143 0.302 0.478 0.26 0.30 0.22 0.21 0.19 0.25
144 0.302 0.478 0.22 0.18 0.27 0.24 0.30 0.20
145 0.302 0.478 0.29 0.23 0.20 0.26 0.22 0.28
146 0.302 0.478 0.18 0.26 0.25 0.19 0.24 0.21
147 0.302 0.478 0.30 0.28 0.23 0.31 0.27 0.22
148 0.302 0.478 0.24 0.20 0.29 0.22 0.18 0.26
149 0.301 0.478 0.21 0.25 0.18 0.28 0.23 0.20
150 0.300 0.478 0.27 0.22 0.24 0.20 0.26 0.19
151 0.299 0.478 0.19 0.29 0.21 0.25 0.18 0.24
152 0.298 0.478 0.25 0.18 0.27 0.22 0.21 0.23
153 0.297 0.478 0.22 0.24 0.19 0.20 0.28 0.18
154 0.296 0.478 0.18 0.21 0.25 0.27 0.23 0.22
155 0.295 0.478 0.26 0.19 0.22 0.18 0.20 0.25
156 0.295 0.478 0.21 0.27 0.18 0.24 0.26 0.19
157 0.294 0.478 0.24 0.22 0.20 0.21 0.18 0.27
158 0.294 0.478 0.19 0.25 0.28 0.19 0.22 0.21
159 0.293 0.478 0.27 0.18 0.23 0.26 0.20 0.24
160 0.293 0.478 0.20 0.24 0.21 0.18 0.25 0.19
161 0.292 0.478 0.23 0.20 0.26 0.22 0.19 0.28
162 0.291 0.478 0.18 0.27 0.19 0.25 0.23 0.21
163 0.291 0.478 0.25 0.22 0.24 0.20 0.18 0.26
164 0.290 0.478 0.30 0.29 0.21 0.27 0.22 0.19
165 0.288 0.478 0.21 0.26 0.30 0.24 0.20 0.23
166 0.288 0.478 0.27 0.31 0.23 0.19 0.28 0.25
167 0.288 0.478 0.19 0.23 0.27 0.30 0.24 0.21
168 0.288 0.478 0.24 0.28 0.20 0.22 0.29 0.26
169 0.287 0.478 0.29 0.21 0.25 0.18 0.23 0.20
170 0.287 0.478 0.22 0.30 0.19 0.26 0.21 0.27
171 0.287 0.478 0.26 0.24 0.28 0.20 0.18 0.22
172 0.286 0.478 0.18 0.22 0.23 0.27 0.25 0.19
173 0.286 0.478 0.23 0.27 0.20 0.21 0.29 0.24
174 0.286 0.478 0.27 0.19 0.25 0.24 0.20 0.18
175 0.285 0.478 0.20 0.25 0.18 0.22 0.26 0.23
176 0.285 0.478 0.24 0.21 0.28 0.19 0.23 0.27
177 0.284 0.478 0.19 0.28 0.22 0.25 0.18 0.21
178 0.284 0.478 0.28 0.23 0.19 0.20 0.24 0.26
179 0.283 0.478 0.22 0.18 0.26 0.28 0.21 0.20
180 0.282 0.478 0.26 0.24 0.21 0.18 0.27 0.23
181 0.282 0.479 0.18 0.20 0.29 0.23 0.19 0.25
182 0.281 0.479 0.25 0.27 0.23 0.21 0.28 0.18
183 0.280 0.479 0.21 0.19 0.18 0.26 0.22 0.24
184 0.280 0.479 0.29 0.25 0.24 0.19 0.20 0.27
185 0.279 0.479 0.19 0.22 0.27 0.24 0.30 0.21
186 0.279 0.479 0.27 0.29 0.20 0.28 0.23 0.19
187 0.278 0.479 0.23 0.18 0.26 0.21 0.25 0.30
188 0.278 0.479 0.30 0.24 0.22 0.27 0.19 0.23
189 0.277 0.479 0.20 0.27 0.31 0.24 0.28 0.18
190 0.277 0.479 0.26 0.21 0.19 0.29 0.22 0.25
191 0.276 0.479 0.18 0.28 0.24 0.20 0.27 0.23
192 0.276 0.479 0.24 0.20 0.28 0.30 0.18 0.21
193 0.275 0.479 0.29 0.25 0.21 0.23 0.26 0.19
194 0.275 0.479 0.19 0.23 0.27 0.18 0.22 0.28
195 0.274 0.479 0.23 0.18 0.20 0.26 0.29 0.24
196 0.274 0.480 0.27 0.26 0.24 0.21 0.19 0.18
197 0.273 0.480 0.20 0.22 0.18 0.25 0.23 0.26
198 0.273 0.480 0.25 0.19 0.27 0.20 0.18 0.22
199 0.272 0.480 0.18 0.24 0.21 0.23 0.27 0.19
200 0.272 0.480 0.22 0.17 0.25 0.19 0.21 0.24
201 0.271 0.480 0.26 0.21 0.18 0.28 0.20 0.17
202 0.271 0.480 0.19 0.25 0.22 0.17 0.24 0.21
203 0.271 0.480 0.23 0.18 0.26 0.20 0.19 0.27
204 0.270 0.480 0.17 0.22 0.19 0.24 0.29 0.18
205 0.270 0.480 0.30 0.20 0.23 0.18 0.22 0.25
206 0.270 0.480 0.21 0.27 0.17 0.21 0.19 0.30
207 0.270 0.480 0.19 0.23 0.25 0.30 0.18 0.20
213 0.270 0.480 0.31 0.29 0.26 0.24 0.17 nan
214 0.270 0.480 0.22 nan nan nan nan nan
216 0.270 0.479 0.18 0.20 0.17 0.19 0.21 0.18
217 0.269 0.479 0.26 0.17 0.20 0.18 0.19 0.23
218 0.269 0.479 0.19 0.21 0.18 0.24 0.17 0.20
219 0.268 0.480 0.29 0.25 0.22 0.17 0.20 0.19
220 0.268 0.480 0.18 0.23 0.26 0.20 0.28 0.21
221 0.267 0.480 0.24 0.19 0.21 0.27 0.18 0.22
222 0.267 0.480 0.20 0.28 0.18 0.23 0.25 0.19
223 0.266 0.481 0.30 0.21 0.24 0.19 0.20 0.26
224 0.266 0.481 0.18 0.25 0.20 0.22 0.17 0.23
225 0.265 0.481 0.23 0.19 0.27 0.18 0.24 0.20
226 0.265 0.481 0.19 0.30 0.22 0.25 0.19 0.18
227 0.264 0.482 0.26 0.20 0.18 0.21 0.27 0.23
228 0.264 0.482 0.20 0.24 0.23 0.17 0.20 0.29
229 0.263 0.482 0.18 0.19 0.26 0.22 0.18 0.21
230 0.263 0.482 0.25 0.23 0.20 0.30 0.21 0.19
231 0.262 0.483 0.21 0.17 0.24 0.19 0.26 0.22
232 0.262 0.483 0.19 0.22 0.18 0.24 0.20 0.17
233 0.261 0.483 0.27 0.26 0.21 0.18 0.23 0.20
234 0.261 0.484 0.18 0.20 0.29 0.22 0.19 0.24
235 0.261 0.484 0.23 0.18 0.19 0.26 0.17 0.21
236 0.260 0.484 0.20 0.25 0.22 0.19 0.24 0.18
237 0.260 0.485 0.29 0.19 0.18 0.23 0.20 0.22
238 0.260 0.485 0.17 0.22 0.26 0.18 0.21 0.19
239 0.259 0.485 0.24 0.20 0.19 0.27 0.18 0.23
240 0.259 0.486 0.19 0.26 0.23 0.20 0.22 0.17
241 0.259 0.486 0.30 0.18 0.21 0.19 0.25 0.20
242 0.258 0.486 0.18 0.23 0.17 0.24 0.19 0.22
243 0.258 0.487 0.22 0.19 0.27 0.18 0.21 0.18
244 0.258 0.487 0.29 0.30 0.20 0.23 0.18 0.26
}\tF

\pgfplotsset{
  zpanel/.style={
    at={(65pt,#1)}, anchor=north west,
    scale only axis, width=480pt, height=71.5pt,
    xmin=120, xmax=245, ymin=0.15, ymax=0.6,
    xtick={120,145,...,245}, ytick={0.15,0.3,0.45,0.6},
    tick align=inside, major tick length=3pt,
    ticklabel style={font=\fontsize{13}{15}\selectfont},
    yticklabel style={xshift=-1.5pt},
    xticklabel style={yshift=-6pt},
    /pgf/number format/assume math mode=true,
    grid=major, grid style={draw=black!12, line width=0.5pt},
    axis line style={draw=black!70, line width=0.7pt},
    tick style={draw=black!70, line width=0.6pt},
    unbounded coords=discard,
  },
}

\newcommand{\zopanel}[1]{%
  \addplot[forget plot, only marks, mark=*, mark size=0.9pt, cvin] table[x expr=\thisrow{d}+0.10, y=b1]{#1};
  \addplot[forget plot, only marks, mark=*, mark size=0.9pt, cvin] table[x expr=\thisrow{d}+0.25, y=b2]{#1};
  \addplot[forget plot, only marks, mark=*, mark size=0.9pt, cvin] table[x expr=\thisrow{d}+0.40, y=b3]{#1};
  \addplot[forget plot, only marks, mark=*, mark size=0.9pt, cvin] table[x expr=\thisrow{d}+0.55, y=b4]{#1};
  \addplot[forget plot, only marks, mark=*, mark size=0.9pt, cvin] table[x expr=\thisrow{d}+0.70, y=b5]{#1};
  \addplot[forget plot, only marks, mark=*, mark size=0.9pt, cvin] table[x expr=\thisrow{d}+0.85, y=b6]{#1};
  \addplot[forget plot, only marks, mark=gdash, copn] table[x expr=\thisrow{d}+0.5, y=o]{#1};
  \addplot[forget plot, only marks, mark=rdash, cstd] table[x expr=\thisrow{d}+0.5, y=s]{#1};
}
\newcommand{\ptitle}[1]{\node[anchor=base west, inner sep=0pt, font=\bfseries\fontsize{13}{15}\selectfont] at (rel axis cs:0.019,0.797) {#1};}

\begin{document}
\begin{tikzpicture}
\begin{axis}[zpanel=-11.5pt, xticklabels={}]
\zopanel{\tA}
\ptitle{2014 Vineyard 1}
\end{axis}
\begin{axis}[zpanel=-101.5pt, xticklabels={}]
\zopanel{\tB}
\ptitle{2014 Vineyard 2}
\end{axis}
\begin{axis}[zpanel=-191.5pt, xticklabels={}]
\zopanel{\tC}
\ptitle{2015 Vineyard 1}
\end{axis}
\begin{axis}[zpanel=-281.5pt, xticklabels={}]
\zopanel{\tD}
\ptitle{2015 Vineyard 2}
\end{axis}
\begin{axis}[zpanel=-371.5pt, xticklabels={}]
\zopanel{\tE}
\ptitle{2016 Vineyard 1}
\end{axis}
\begin{axis}[zpanel=-461.5pt,
  xlabel={Day of Year}, xlabel style={font=\bfseries\fontsize{16}{19}\selectfont, yshift=-1pt},
  legend columns=3,
  legend image code/.code={\fill[#1, draw=none] (0pt,-8pt) rectangle (16pt,8pt);},
  legend style={at={(0,0)}, anchor=west, yshift=-71pt, xshift=103pt,
    draw=none, fill=none, font=\fontsize{12.5}{14}\selectfont,
    /tikz/every even column/.append style={column sep=14pt}},
  ]
\zopanel{\tF}
\ptitle{2016 Vineyard 2}
\addlegendimage{fill=cstd, draw=none}\addlegendentry{\hspace*{15pt}TSEB\textsubscript{STD}}
\addlegendimage{fill=copn, draw=none}\addlegendentry{\hspace*{15pt}TSEB\textsubscript{OPN}}
\addlegendimage{fill=cvin, draw=none}\addlegendentry{\hspace*{15pt}TSEB\textsubscript{VIN}}
\end{axis}
\node[rotate=90, font=\fontsize{15}{17}\selectfont] at (12.5pt,-101.5pt) {{\bfseries\itshape z\textsubscript{o}}\ [m]};
\node[rotate=90, font=\fontsize{15}{17}\selectfont] at (12.5pt,-281.5pt) {{\bfseries\itshape z\textsubscript{o}}\ [m]};
\node[rotate=90, font=\fontsize{15}{17}\selectfont] at (12.5pt,-473.5pt) {{\bfseries\itshape z\textsubscript{o}}\ [m]};
\pgfresetboundingbox
\useasboundingbox (0,0) rectangle (557.5pt,-616.5pt);
\end{tikzpicture}
\end{document}
